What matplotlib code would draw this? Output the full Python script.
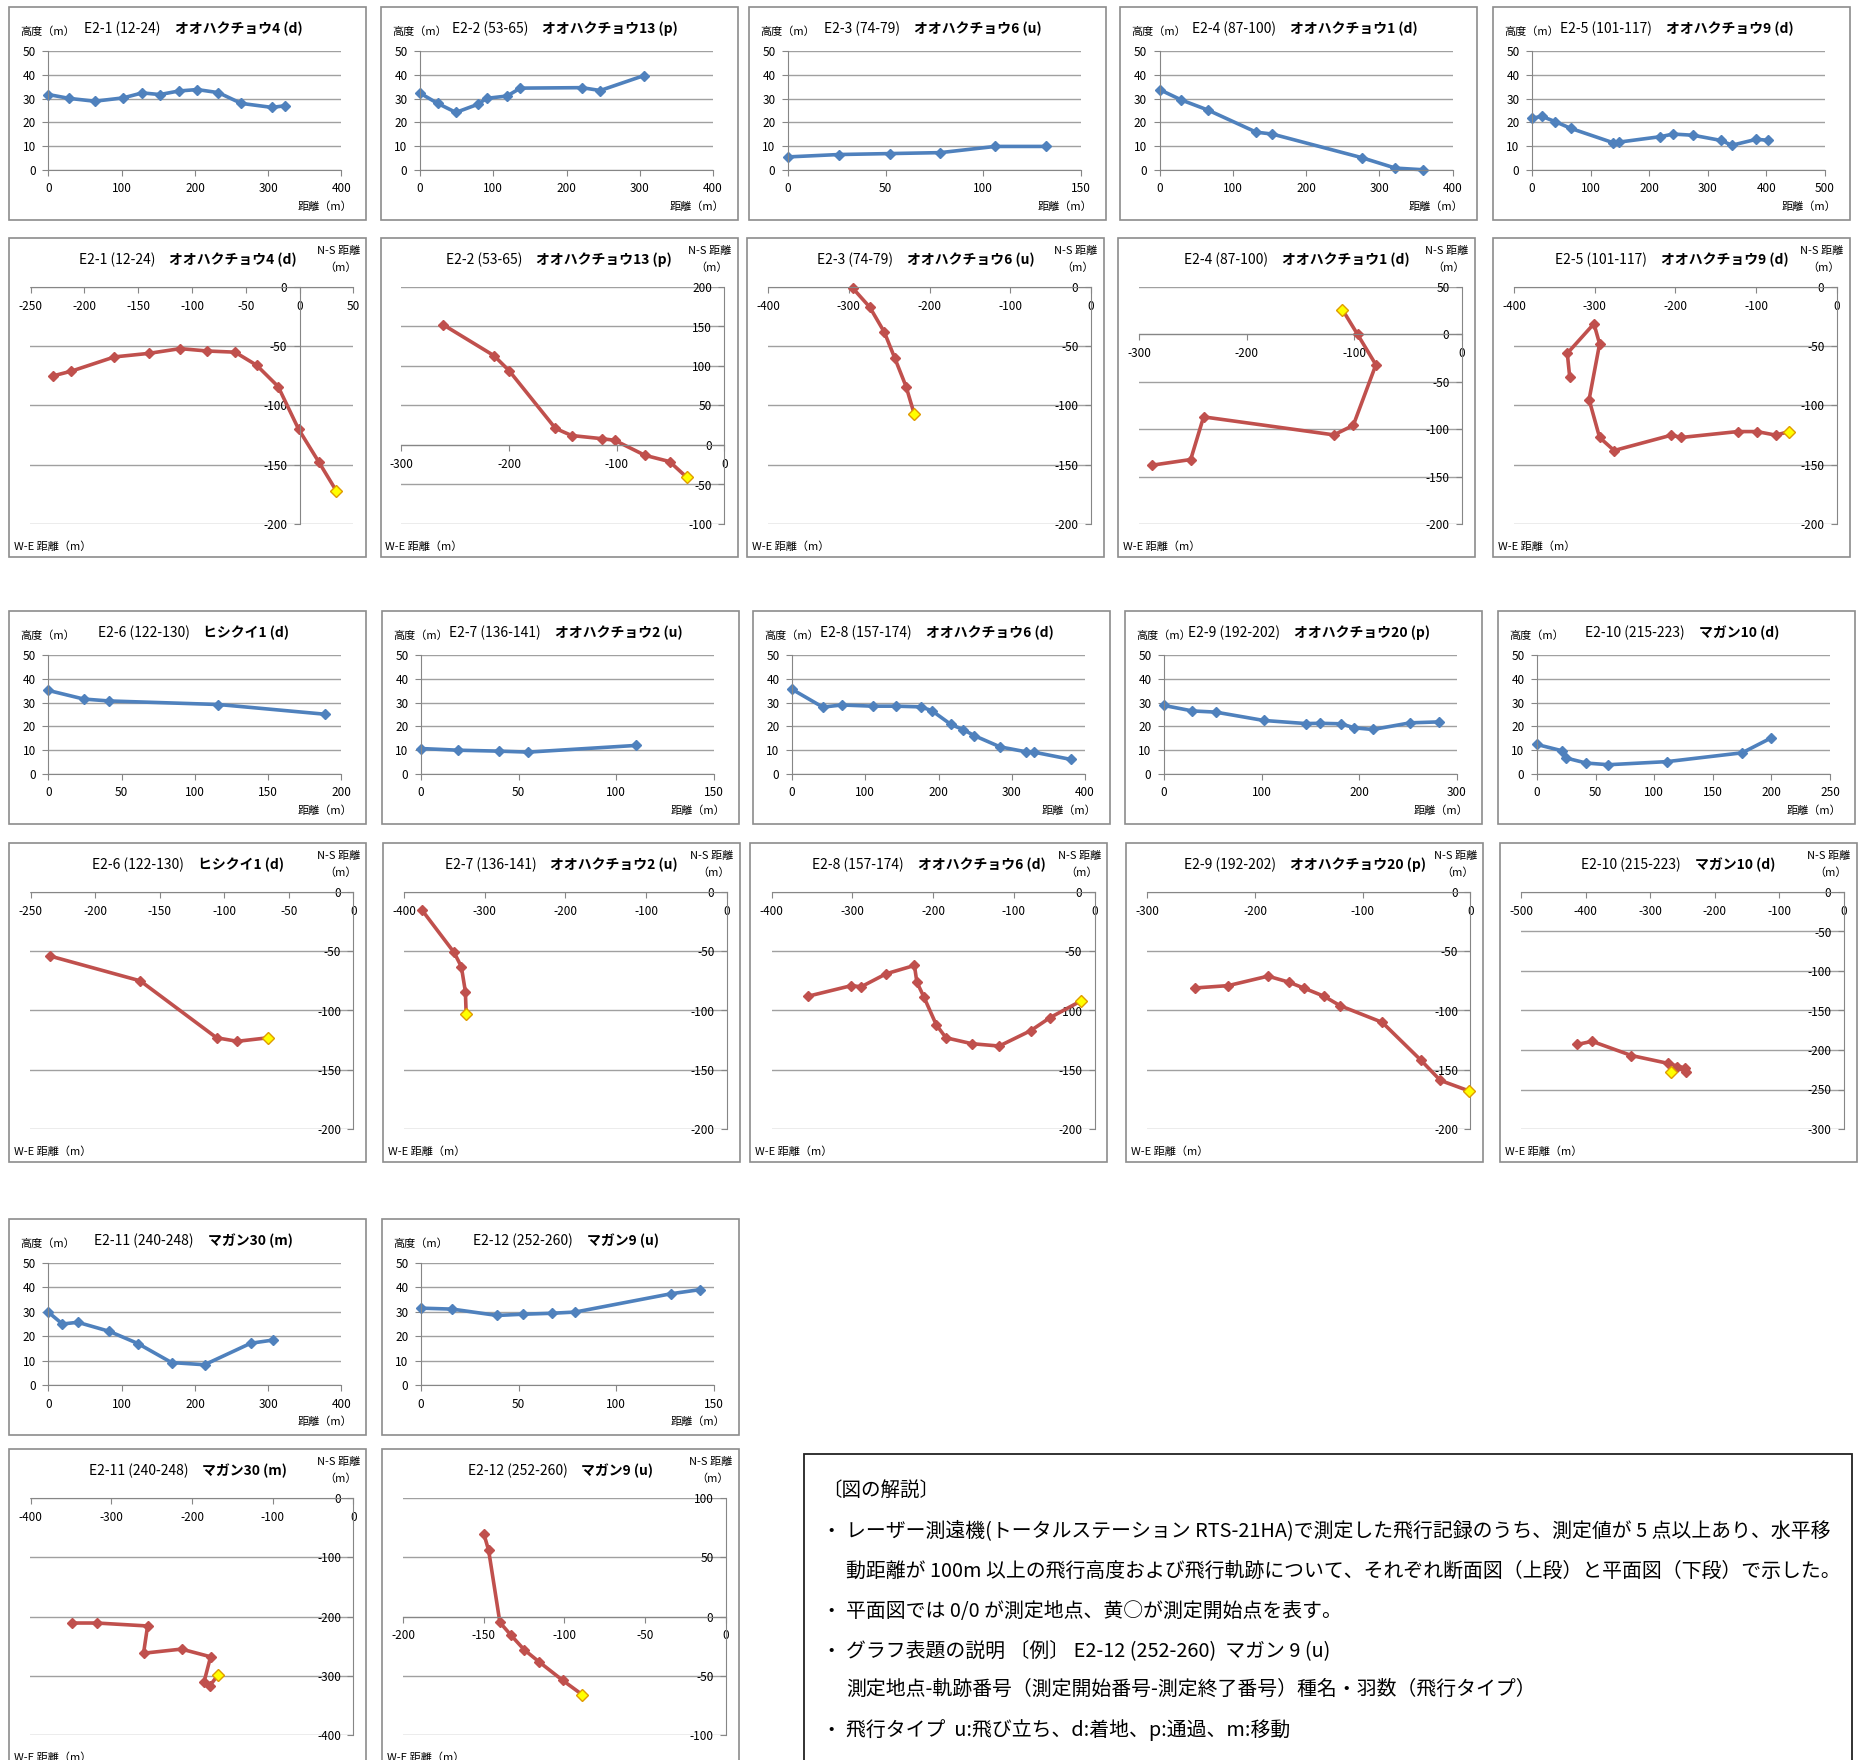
import numpy as np
import matplotlib
matplotlib.use('Agg')
import matplotlib.pyplot as plt
from matplotlib.patches import Rectangle

plt.rcParams['font.family'] = ['Noto Sans CJK JP', 'DejaVu Sans']
plt.rcParams['axes.unicode_minus'] = False

# ---- flight titles ----
codes = ['E2-1 (12-24)', 'E2-2 (53-65)', 'E2-3 (74-79)', 'E2-4 (87-100)',
         'E2-5 (101-117)', 'E2-6 (122-130)', 'E2-7 (136-141)', 'E2-8 (157-174)',
         'E2-9 (192-202)', 'E2-10 (215-223)', 'E2-11 (240-248)', 'E2-12 (252-260)']
names = ['オオハクチョウ4 (d)', 'オオハクチョウ13 (p)', 'オオハクチョウ6 (u)', 'オオハクチョウ1 (d)',
         'オオハクチョウ9 (d)', 'ヒシクイ1 (d)', 'オオハクチョウ2 (u)', 'オオハクチョウ6 (d)',
         'オオハクチョウ20 (p)', 'マガン10 (d)', 'マガン30 (m)', 'マガン9 (u)']

# ---- profile: distance (m) / altitude (m) ----
dist1 = [0, 28, 63, 102, 128, 152, 178, 203, 232, 263, 305, 323]
alt1 = [31.7, 30.1, 28.9, 30.3, 32.4, 31.7, 33.2, 33.8, 32.5, 28, 26.3, 27]
dist2 = [0, 24, 49, 79, 91, 119, 137, 221, 246, 306]
alt2 = [32.3, 28, 24.2, 27.6, 30.1, 31.1, 34.4, 34.6, 33.4, 39.7]
dist3 = [0, 26, 52, 78, 106, 132]
alt3 = [5.5, 6.5, 6.9, 7.3, 9.9, 9.9]
dist4 = [0, 30, 66, 132, 154, 276, 322, 360]
alt4 = [33.8, 29.4, 25.2, 15.9, 15.1, 5.2, 0.8, 0.1]
dist5 = [0, 17, 40, 66, 138, 148, 219, 241, 275, 323, 341, 383, 402]
alt5 = [21.8, 22.5, 20.3, 17.5, 11.5, 11.7, 14, 15.1, 14.6, 12.4, 10.4, 12.9, 12.5]
dist6 = [0, 24, 41, 116, 189]
alt6 = [35.1, 31.5, 30.7, 29.2, 25.1]
dist7 = [0, 19, 40, 55, 110]
alt7 = [10.7, 10, 9.6, 9.2, 12]
dist8 = [0, 42, 68, 110, 142, 176, 191, 217, 234, 249, 284, 320, 330, 381]
alt8 = [35.6, 28.1, 29, 28.5, 28.5, 28.2, 26.6, 20.8, 18.6, 16.1, 11.4, 9.3, 9.2, 6.1]
dist9 = [0, 29, 53, 102, 145, 160, 181, 195, 214, 252, 282]
alt9 = [28.8, 26.5, 26, 22.5, 21.2, 21.3, 21.1, 19.4, 18.7, 21.5, 21.9]
dist10 = [0, 21, 25, 42, 61, 111, 175, 200]
alt10 = [12.4, 9.8, 6.7, 4.6, 3.9, 5.2, 8.9, 15.2]
dist11 = [0, 19, 40, 83, 122, 168, 213, 276, 306]
alt11 = [29.8, 25, 25.7, 22, 17, 9.2, 8.3, 17.1, 18.4]
dist12 = [0, 16, 39, 52, 67, 79, 128, 143]
alt12 = [31.5, 31.1, 28.5, 29, 29.4, 29.9, 37.4, 39.1]

# ---- plan: W-E / N-S distance (m), first point = start ----
we1 = [34, 18, -1, -20, -40, -60, -86, -111, -140, -172, -212, -229]
ns1 = [-172, -148, -120, -84, -66, -55, -54, -52, -56, -59, -71, -75]
we2 = [-35, -51, -74, -102, -114, -142, -157, -200, -214, -261]
ns2 = [-41, -21, -13, 6, 8, 12, 21, 94, 113, 152]
we3 = [-219, -229, -243, -256, -274, -295]
ns3 = [-107, -84, -60, -38, -17, -1]
we4 = [-111, -97, -80, -101, -119, -240, -252, -288]
ns4 = [26, 0, -32, -96, -106, -87, -132, -138]
we5 = [-59, -76, -99, -123, -193, -205, -276, -294, -307, -294, -301, -334, -331]
ns5 = [-122, -125, -122, -122, -127, -125, -138, -127, -95, -48, -31, -56, -76]
we6 = [-66, -90, -106, -165, -235]
ns6 = [-123, -126, -123, -75, -54]
we7 = [-323, -324, -329, -338, -378]
ns7 = [-103, -84, -63, -51, -15]
we8 = [-17, -55, -79, -118, -152, -184, -196, -211, -220, -223, -258, -289, -301, -355]
ns8 = [-92, -106, -117, -130, -128, -123, -112, -89, -76, -62, -69, -80, -79, -88]
we9 = [-1, -28, -46, -82, -121, -136, -155, -169, -188, -225, -256]
ns9 = [-168, -159, -142, -110, -96, -88, -81, -76, -71, -79, -81]
we10 = [-268, -258, -245, -246, -272, -329, -390, -413]
ns10 = [-228, -222, -228, -223, -217, -207, -189, -193]
we11 = [-168, -178, -185, -177, -213, -260, -255, -318, -349]
ns11 = [-299, -317, -310, -268, -255, -262, -216, -211, -211]
we12 = [-89, -101, -116, -125, -133, -140, -147, -150]
ns12 = [-66, -54, -38, -28, -16, -5, 56, 70]

dists = [dist1, dist2, dist3, dist4, dist5, dist6, dist7, dist8, dist9, dist10, dist11, dist12]
alts = [alt1, alt2, alt3, alt4, alt5, alt6, alt7, alt8, alt9, alt10, alt11, alt12]
wes = [we1, we2, we3, we4, we5, we6, we7, we8, we9, we10, we11, we12]
nss = [ns1, ns2, ns3, ns4, ns5, ns6, ns7, ns8, ns9, ns10, ns11, ns12]

# axis ranges (min, max, step)
prof_x = [(0, 400, 100), (0, 400, 100), (0, 150, 50), (0, 400, 100), (0, 500, 100), (0, 200, 50),
          (0, 150, 50), (0, 400, 100), (0, 300, 100), (0, 250, 50), (0, 400, 100), (0, 150, 50)]
plan_x = [(-250, 50, 50), (-300, 0, 100), (-400, 0, 100), (-300, 0, 100), (-400, 0, 100), (-250, 0, 50),
          (-400, 0, 100), (-400, 0, 100), (-300, 0, 100), (-500, 0, 100), (-400, 0, 100), (-200, 0, 50)]
plan_y = [(-200, 0, 50), (-100, 200, 50), (-200, 0, 50), (-200, 50, 50), (-200, 0, 50), (-200, 0, 50),
          (-200, 0, 50), (-200, 0, 50), (-200, 0, 50), (-300, 0, 50), (-400, 0, 100), (-100, 100, 50)]

notes = ['レーザー測遠機(トータルステーション RTS-21HA)で測定した飛行記録のうち、測定値が 5 点以上あり、水平移',
         '動距離が 100m 以上の飛行高度および飛行軌跡について、それぞれ断面図（上段）と平面図（下段）で示した。',
         '平面図では 0/0 が測定地点、黄○が測定開始点を表す。',
         'グラフ表題の説明 〔例〕 E2-12 (252-260)  マガン 9 (u)',
         '測定地点-軌跡番号（測定開始番号-測定終了番号）種名・羽数（飛行タイプ）',
         '飛行タイプ  u:飛び立ち、d:着地、p:通過、m:移動']

W, H = 1865, 1760
fig = plt.figure(figsize=(W / 100, H / 100), dpi=100)
renderer = fig.canvas.get_renderer()

BLUE = '#4F81BD'
RED = '#C0504D'
GRID = '#A0A0A0'
AXIS = '#868686'
FRAME = '#8C8C8C'
PW = 357


def fx(x):
    return x / W


def fy(y):
    return 1 - y / H


def frame(left, top, w, h, color=FRAME, lw=1.2):
    fig.add_artist(Rectangle((fx(left), fy(top + h)), w / W, h / H, transform=fig.transFigure,
                             fill=False, ec=color, lw=lw))


def title(xc, y, code, name):
    t1 = fig.text(0, fy(y), code, ha='left', va='center', fontsize=10)
    t2 = fig.text(0, fy(y), name, ha='left', va='center', fontsize=10, fontweight='bold')
    w1 = t1.get_window_extent(renderer).width
    w2 = t2.get_window_extent(renderer).width
    start = xc - (w1 + w2 + 14) / 2
    t1.set_x(fx(start))
    t2.set_x(fx(start + w1 + 14))


def profile(left, top, i, h=213):
    frame(left, top, PW, h)
    ax = fig.add_axes([fx(left + 39), fy(top + h - 50), (PW - 39 - 25) / W, (h - 44 - 50) / H])
    ax.plot(dists[i], alts[i], color=BLUE, lw=2.6, marker='D', ms=5.5, mfc=BLUE, mec=BLUE, clip_on=False)
    lo, hi, st = prof_x[i]
    ax.set_xlim(lo, hi)
    ax.set_ylim(0, 50)
    ax.set_xticks(np.arange(lo, hi + 1, st))
    ax.set_yticks(np.arange(0, 51, 10))
    ax.grid(axis='y', color=GRID, lw=1)
    ax.set_axisbelow(True)
    for s in ['top', 'right']:
        ax.spines[s].set_visible(False)
    for s in ['left', 'bottom']:
        ax.spines[s].set_color(AXIS)
    ax.tick_params(labelsize=8.5, color=AXIS, length=4, pad=5)
    ax.patch.set_visible(False)
    fig.text(fx(left + 11), fy(top + 25), '高度（m）', ha='left', va='center', fontsize=8)
    fig.text(fx(left + PW - 14), fy(top + h - 13), '距離（m）', ha='right', va='center', fontsize=8)
    title(left + 184, top + 22, codes[i], names[i])


def plan(left, top, i, h=319):
    frame(left, top, PW, h)
    ax = fig.add_axes([fx(left + 21), fy(top + h - 33), (PW - 21 - 13) / W, (h - 49 - 33) / H])
    ax.plot(wes[i], nss[i], color=RED, lw=2.6, marker='D', ms=5.5, mfc=RED, mec=RED, clip_on=False)
    ax.plot(wes[i][:1], nss[i][:1], ls='none', marker='D', ms=6, mfc='#FFFF00', mec='#E09B00',
            mew=1, clip_on=False, zorder=5)
    xlo, xhi, xst = plan_x[i]
    ylo, yhi, yst = plan_y[i]
    ax.set_xlim(xlo, xhi)
    ax.set_ylim(ylo, yhi)
    ax.set_xticks(np.arange(xlo, xhi + 1, xst))
    ax.set_yticks(np.arange(ylo, yhi + 1, yst))
    ax.grid(axis='y', color=GRID, lw=1)
    ax.set_axisbelow(True)
    ax.spines['left'].set_position(('data', 0))
    ax.spines['bottom'].set_position(('data', 0))
    for s in ['top', 'right']:
        ax.spines[s].set_visible(False)
    for s in ['left', 'bottom']:
        ax.spines[s].set_color(AXIS)
    ax.tick_params(labelsize=8.5, color=AXIS, length=4, pad=5)
    ax.patch.set_visible(False)
    fig.text(fx(left + 329), fy(top + 13), 'N-S 距離', ha='center', va='center', fontsize=8)
    fig.text(fx(left + 331), fy(top + 30), '（m）', ha='center', va='center', fontsize=8)
    fig.text(fx(left + 5), fy(top + h - 10), 'W-E 距離（m）', ha='left', va='center', fontsize=8)
    title(left + PW / 2, top + 22, codes[i], names[i])


# row layout (pixels from top-left)
prof_rows = [(7, [9.5, 381, 749, 1120.5, 1493], 213),
             (611, [9.5, 382, 753, 1125, 1498], 213),
             (1219, [9.5, 382], 216)]
plan_rows = [(238, [9.5, 380.5, 747, 1118, 1493]),
             (843, [9.5, 383, 750.5, 1126.5, 1500]),
             (1449, [9.5, 382])]

k = 0
for (ptop, plefts, ph), (qtop, qlefts) in zip(prof_rows, plan_rows):
    for j in range(len(plefts)):
        profile(plefts[j], ptop, k + j, ph)
        plan(qlefts[j], qtop, k + j)
    k += len(plefts)

# explanation box
frame(804, 1454, 1048, 330, color='#222222', lw=1.3)
fig.text(fx(822), fy(1490), '〔図の解説〕', ha='left', va='center', fontsize=14)
note_y = [1531, 1571, 1611, 1651, 1689, 1730]
bullets = [True, False, True, True, False, True]
for txt, yy, b in zip(notes, note_y, bullets):
    if b:
        fig.text(fx(831), fy(yy), '・', ha='center', va='center', fontsize=14)
    fig.text(fx(846), fy(yy), txt, ha='left', va='center', fontsize=14.3)

fig.savefig('out.png', dpi=100)
